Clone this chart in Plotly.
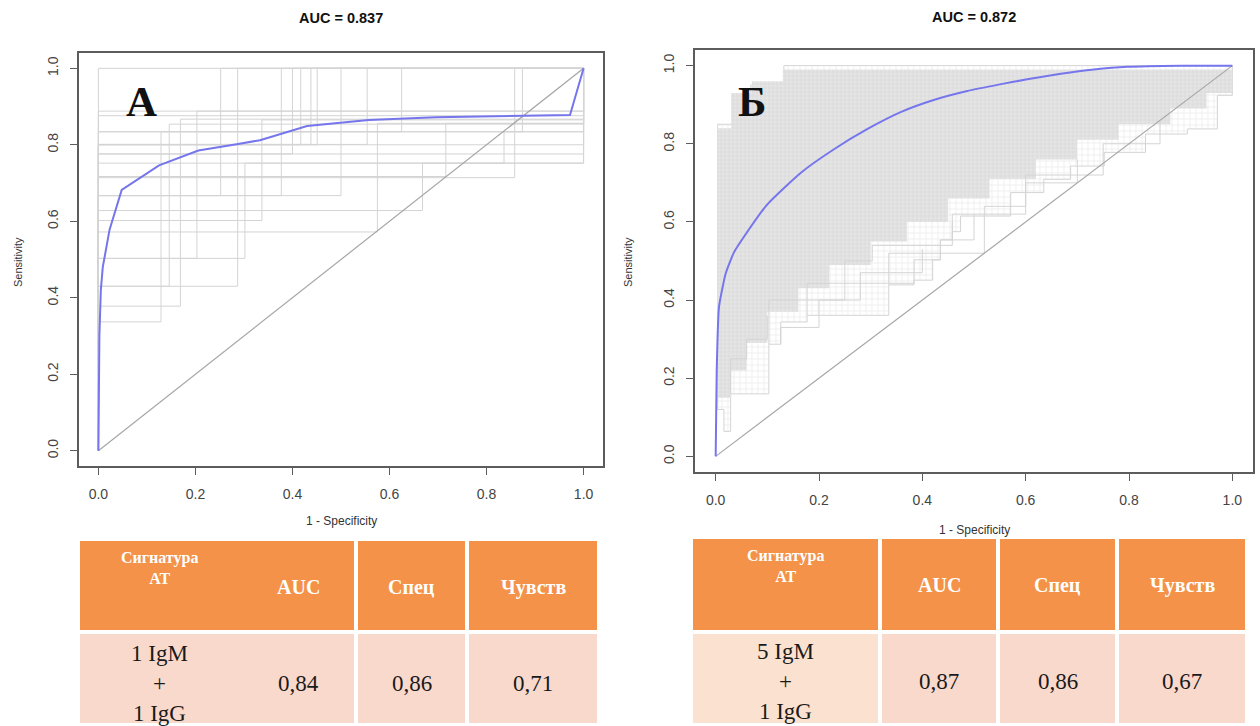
import plotly.graph_objects as go

W, H = 1260, 726

# ---------------- Panel A (left) ----------------
roc_a_fpr = [0, 0.002, 0.005, 0.009, 0.023, 0.048, 0.125, 0.206, 0.288, 0.333,
             0.43, 0.49, 0.557, 0.695, 0.972, 1.0]
roc_a_tpr = [0, 0.30, 0.42, 0.48, 0.578, 0.682, 0.746, 0.785, 0.802, 0.812,
             0.849, 0.856, 0.865, 0.872, 0.878, 1.0]

# bootstrap step curves: x where each vertical jump happens, and the level reached
boot_a_x = [
    [0, 0, 0.129, 1], [0, 0, 0.169, 1], [0, 0, 0.146, 1], [0, 0, 0.287, 1],
    [0, 0, 0.203, 1], [0, 0, 0.302, 1], [0, 0, 0.575, 1], [0, 0, 0.337, 1],
    [0, 0, 0.668, 1], [0, 0, 0.252, 1], [0, 0, 0.377, 1], [0, 0, 0.50, 1],
    [0, 0, 0.858, 1], [0, 0, 0.40, 1], [0, 0, 0.438, 1], [0, 0, 0.554, 1],
    [0, 0, 0.625, 1], [0, 0, 0.874, 1], [0, 0, 0.716, 1], [0, 0, 0.836, 1],
    [0, 0, 1], [0, 0, 1], [0, 0, 1], [0, 0, 0.417, 1], [0, 0, 0.451, 1],
    [0, 0, 1], [0, 0, 1],
]
boot_a_y = [
    [0, 0.337, 0.834, 1], [0, 0.378, 0.867, 1], [0, 0.43, 0.854, 1], [0, 0.43, 1, 1],
    [0, 0.503, 0.888, 1], [0, 0.503, 0.752, 1], [0, 0.572, 0.856, 1], [0, 0.602, 0.865, 1],
    [0, 0.628, 0.752, 1], [0, 0.667, 1, 1], [0, 0.667, 1, 1], [0, 0.667, 1, 1],
    [0, 0.714, 1, 1], [0, 0.776, 1, 1], [0, 0.801, 1, 1], [0, 0.801, 1, 1],
    [0, 0.834, 1, 1], [0, 0.834, 1, 1], [0, 0.717, 0.856, 1], [0, 0.752, 0.834, 1],
    [0, 0.80, 1], [0, 0.776, 1], [0, 0.876, 1], [0, 0.80, 1, 1], [0, 0.80, 1, 1],
    [0, 0.888, 1], [0, 1.0, 1],
]

# ---------------- Panel Б (right) ----------------
roc_b_fpr = [0, 0.002, 0.0064, 0.0194, 0.0354, 0.0548, 0.10, 0.165, 0.229, 0.294,
             0.358, 0.422, 0.487, 0.55, 0.603, 0.668, 0.732, 0.797, 0.9, 1.0]
roc_b_tpr = [0, 0.215, 0.382, 0.468, 0.522, 0.562, 0.645, 0.726, 0.786, 0.838,
             0.881, 0.912, 0.935, 0.952, 0.965, 0.979, 0.990, 0.997, 1.0, 1.0]

# envelope of all bootstrap curves (outer, sparse)
env_out_x = [0.004, 0.004, 0.068, 0.068, 0.132, 0.132, 1.0,
             1.0, 0.971, 0.971, 0.913, 0.913, 0.832, 0.832, 0.752, 0.752, 0.687, 0.687,
             0.635, 0.635, 0.571, 0.571, 0.474, 0.474, 0.458, 0.458, 0.435, 0.435,
             0.42, 0.42, 0.384, 0.384, 0.335, 0.335, 0.177, 0.177, 0.126, 0.126,
             0.103, 0.103, 0.029, 0.029, 0.016, 0.016, 0.004]
env_out_y = [0.12, 0.85, 0.85, 0.95, 0.95, 1.0, 1.0,
             0.924, 0.924, 0.838, 0.838, 0.825, 0.825, 0.778, 0.778, 0.743, 0.743, 0.709,
             0.709, 0.675, 0.675, 0.615, 0.615, 0.575, 0.575, 0.554, 0.554, 0.503,
             0.503, 0.451, 0.451, 0.439, 0.439, 0.361, 0.361, 0.344, 0.344, 0.287,
             0.287, 0.16, 0.16, 0.064, 0.064, 0.12, 0.12]
# dense core of the bootstrap curves
env_in_x = [0.004, 0.004, 0.03, 0.03, 0.07, 0.07, 0.13, 0.13, 1.0,
            1.0, 0.95, 0.95, 0.88, 0.88, 0.78, 0.78, 0.70, 0.70, 0.62, 0.62,
            0.53, 0.53, 0.45, 0.45, 0.37, 0.37, 0.30, 0.30, 0.22, 0.22, 0.16, 0.16,
            0.10, 0.10, 0.06, 0.06, 0.03, 0.03, 0.004]
env_in_y = [0.15, 0.84, 0.84, 0.93, 0.93, 0.96, 0.96, 0.99, 0.99,
            0.93, 0.93, 0.89, 0.89, 0.85, 0.85, 0.81, 0.81, 0.76, 0.76, 0.71,
            0.71, 0.66, 0.66, 0.60, 0.60, 0.55, 0.55, 0.49, 0.49, 0.43, 0.43, 0.37,
            0.37, 0.29, 0.29, 0.22, 0.22, 0.15, 0.15]
# a few isolated bootstrap steps in the sparse lower part
boot_b_x = [[0.177, 0.177, 0.384, 0.435, 0.5], [0.103, 0.103, 0.25, 0.303, 0.458],
            [0.029, 0.029, 0.06, 0.10], [0.335, 0.335, 0.52, 0.60, 0.70],
            [0.126, 0.126, 0.20, 0.28, 0.40], [0.458, 0.458, 0.60, 0.75, 0.86]]
boot_b_y = [[0.361, 0.443, 0.503, 0.554, 0.62], [0.287, 0.40, 0.50, 0.54, 0.60],
            [0.16, 0.25, 0.30, 0.36], [0.439, 0.52, 0.64, 0.70, 0.76],
            [0.287, 0.33, 0.40, 0.47, 0.53], [0.554, 0.62, 0.72, 0.80, 0.86]]

diag = [0, 1]
tick_vals = [0, 0.2, 0.4, 0.6, 0.8, 1.0]
tick_text = ["0.0", "0.2", "0.4", "0.6", "0.8", "1.0"]
titles = ["AUC = 0.837", "AUC = 0.872"]
panel_letters = ["А", "Б"]

# ---------------- tables ----------------
tbl_header = ["Сигнатура<br>АТ", "AUC", "Спец", "Чувств"]
tbl_a_row = ["1 IgM<br>+<br>1 IgG", "0,84", "0,86", "0,71"]
tbl_b_row = ["5 IgM<br>+<br>1 IgG", "0,87", "0,86", "0,67"]
tbl_a_colw = [162, 116, 111, 132]   # first two columns share one cell in panel A
tbl_b_colw = [189, 118, 119, 130]

GREY = "#d4d4d4"
BLUE = "#7676ec"
ORANGE = "#f39248"
PINK = "#f9d9cc"
PEACH = "#fbe2d0"

fig = go.Figure()

for xs, ys in zip(boot_a_x, boot_a_y):
    fig.add_trace(go.Scatter(x=xs, y=ys, mode="lines", line=dict(color=GREY, width=1, shape="hv"),
                             xaxis="x", yaxis="y", hoverinfo="skip"))
fig.add_trace(go.Scatter(x=diag, y=diag, mode="lines", line=dict(color="#a6a6a6", width=1.2),
                         xaxis="x", yaxis="y"))
fig.add_trace(go.Scatter(x=roc_a_fpr, y=roc_a_tpr, mode="lines", line=dict(color=BLUE, width=2),
                         xaxis="x", yaxis="y"))

fig.add_trace(go.Scatter(x=env_out_x, y=env_out_y, mode="lines", fill="toself",
                         fillcolor="white",
                         fillpattern=dict(shape="+", fgcolor="#d6d6d6", bgcolor="white",
                                          size=6, solidity=0.22),
                         line=dict(color=GREY, width=1), xaxis="x2", yaxis="y2"))
fig.add_trace(go.Scatter(x=env_in_x, y=env_in_y, mode="lines", fill="toself",
                         fillcolor="#e2e2e2",
                         fillpattern=dict(shape="+", fgcolor="#cccccc", bgcolor="#e5e5e5",
                                          size=4, solidity=0.3),
                         line=dict(color="rgba(0,0,0,0)", width=0), xaxis="x2", yaxis="y2"))
for xs, ys in zip(boot_b_x, boot_b_y):
    fig.add_trace(go.Scatter(x=xs, y=ys, mode="lines", line=dict(color=GREY, width=1, shape="hv"),
                             xaxis="x2", yaxis="y2"))
fig.add_trace(go.Scatter(x=diag, y=diag, mode="lines", line=dict(color="#a6a6a6", width=1.2),
                         xaxis="x2", yaxis="y2"))
fig.add_trace(go.Scatter(x=roc_b_fpr, y=roc_b_tpr, mode="lines",
                         line=dict(color=BLUE, width=2, shape="spline", smoothing=0.5),
                         xaxis="x2", yaxis="y2"))

serif = "Liberation Serif"
sans = "Liberation Sans"

# table geometry (pixels)
TA_LEFT, TA_TOP = 78, 539
TB_LEFT, TB_TOP = 691, 537
HEAD_H = 93
ROW_H = 93

merged_a = [tbl_a_colw[0] + tbl_a_colw[1]] + tbl_a_colw[2:]
fig.add_trace(go.Table(
    domain=dict(x=[TA_LEFT / W, (TA_LEFT + sum(tbl_a_colw)) / W], y=[0, 1 - TA_TOP / H]),
    columnwidth=merged_a,
    header=dict(values=[""] * len(merged_a), fill_color=ORANGE,
                line=dict(color="white", width=4), height=HEAD_H),
    cells=dict(values=[[""]] * len(merged_a), fill_color=PINK,
               line=dict(color="white", width=4), height=ROW_H),
))
fig.add_trace(go.Table(
    domain=dict(x=[TB_LEFT / W, (TB_LEFT + sum(tbl_b_colw)) / W], y=[0, 1 - TB_TOP / H]),
    columnwidth=tbl_b_colw,
    header=dict(values=[""] * len(tbl_b_colw), fill_color=ORANGE,
                line=dict(color="white", width=4), height=HEAD_H + 2),
    cells=dict(values=[[""]] * len(tbl_b_colw), fill_color=[[PEACH], [PINK], [PINK], [PINK]],
               line=dict(color="white", width=4), height=ROW_H),
))

axis_common = dict(range=[-0.04, 1.04], tickvals=tick_vals, ticktext=tick_text,
                   showgrid=False, zeroline=False, showline=True, mirror=True,
                   linecolor="#5c5c5c", linewidth=1.5, ticks="outside", ticklen=7,
                   tickcolor="#5c5c5c", tickfont=dict(family=sans, size=14, color="#444"))

fig.update_layout(
    width=W, height=H, margin=dict(l=0, r=0, t=0, b=0),
    paper_bgcolor="white", plot_bgcolor="white", showlegend=False,
    xaxis=dict(domain=[79 / W, 603 / W], anchor="y", ticklabelstandoff=7, **axis_common),
    yaxis=dict(domain=[1 - 466 / H, 1 - 53 / H], anchor="x", tickangle=-90,
               ticklabelstandoff=7, **axis_common),
    xaxis2=dict(domain=[695 / W, 1253 / W], anchor="y2", ticklabelstandoff=7, **axis_common),
    yaxis2=dict(domain=[1 - 472 / H, 1 - 50 / H], anchor="x2", tickangle=-90,
                ticklabelstandoff=7, **axis_common),
)


def txt(px, py, text, family, size, color="#111", angle=0):
    return dict(x=px / W, y=1 - py / H, xref="paper", yref="paper", text=text,
                xanchor="center", yanchor="middle", showarrow=False, textangle=angle,
                align="center", font=dict(family=family, size=size, color=color))


ann = []
for cx, cy, t in [(341, 18, titles[0]), (974, 17, titles[1])]:
    ann.append(txt(cx, cy, "<b>" + t + "</b>", sans, 14.5))
for cx, cy, t in [(141, 102, panel_letters[0]), (752, 102, panel_letters[1])]:
    ann.append(txt(cx, cy, "<b>" + t + "</b>", serif, 43))
for cx, cy in [(18, 262), (628, 262)]:
    ann.append(txt(cx, cy, "Sensitivity", sans, 11, "#333", -90))
for cx, cy in [(341, 521), (974, 530)]:
    ann.append(txt(cx, cy, "1 - Specificity", sans, 12, "#333"))

# table texts, centred in their columns
for left, top, colw, row in [(TA_LEFT, TA_TOP, tbl_a_colw, tbl_a_row),
                             (TB_LEFT, TB_TOP, tbl_b_colw, tbl_b_row)]:
    x0 = left
    for j, w in enumerate(colw):
        cx = x0 + w / 2
        if j == 0:
            ann.append(txt(cx, top + 29, "<b>" + tbl_header[j] + "</b>", serif, 16, "white"))
        else:
            ann.append(txt(cx, top + 48, "<b>" + tbl_header[j] + "</b>", serif, 20, "white"))
        ann.append(txt(cx, top + HEAD_H + 51, row[j], serif, 23, "#1a1a1a"))
        x0 += w

fig.update_layout(annotations=ann)

fig.write_html("out.html", config={"displayModeBar": False},
               post_script="document.body.style.margin='0px';")
